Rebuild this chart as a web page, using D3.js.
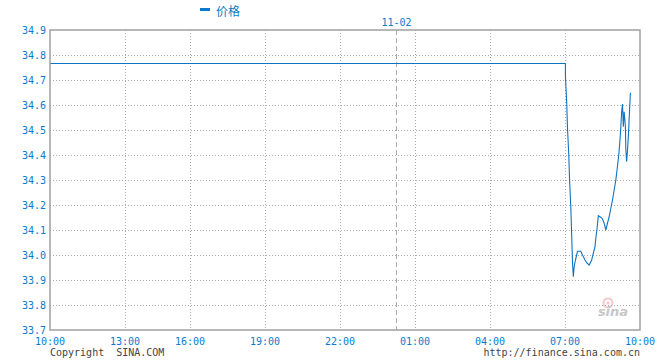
<!DOCTYPE html>
<html>
<head>
  <meta charset="utf-8">
  <script src="https://d3js.org/d3.v7.min.js"></script>
  <style>
    body { margin: 0; background: #fff; }
    svg text { font-family: "DejaVu Sans Mono", "Liberation Mono", monospace; font-size: 10px; }
  </style>
</head>
<body>
<script>
  // x values are minutes along the trading axis, starting at 10:00
  // (the 13:00-16:00 block is shorter, there is a break in it)
  var tickLabels = ["10:00", "13:00", "16:00", "19:00", "22:00", "01:00", "04:00", "07:00", "10:00"];
  var tickMins   = [0, 180, 336, 516, 696, 876, 1056, 1236, 1416];
  var dayBreak = { label: "11-02", min: 830 };
  var yTicks = [33.7, 33.8, 33.9, 34.0, 34.1, 34.2, 34.3, 34.4, 34.5, 34.6, 34.7, 34.8, 34.9];

  var priceMins = [0, 1237, 1237, 1240, 1242, 1245, 1247, 1250, 1252, 1254, 1256,
    1258, 1261, 1264, 1266, 1274, 1278, 1284, 1288, 1294, 1300, 1304, 1308, 1310,
    1313, 1316, 1320, 1325, 1330, 1334, 1338, 1342, 1346, 1350, 1354, 1358, 1362,
    1365, 1368, 1370, 1372, 1374, 1376, 1378, 1381, 1382, 1384, 1386, 1388, 1390, 1393];
  var prices = [34.766, 34.766, 34.716, 34.613, 34.507, 34.403, 34.30, 34.188, 34.08, 33.969, 33.913,
    33.953, 33.98, 34.0, 34.015, 34.015, 34.0, 33.98, 33.969, 33.96, 33.98, 34.007, 34.033, 34.067,
    34.107, 34.157, 34.153, 34.147, 34.127, 34.10, 34.127, 34.153, 34.187, 34.22, 34.26, 34.30, 34.356,
    34.40, 34.46, 34.513, 34.573, 34.604, 34.513, 34.573, 34.513, 34.42, 34.373, 34.42, 34.473, 34.547, 34.649];

  (function() {
  var W = 660, H = 360;
  var pL = 50, pR = 640, pT = 30, pB = 330;
  var blue = "#0a7bcc";

  var svg = d3.select("body").append("svg").attr("width", W).attr("height", H);

  var x = d3.scaleLinear().domain([0, 1416]).range([pL, pR]);
  var y = d3.scaleLinear().domain([33.7, 34.9]).range([pB, pT]);

  // grid
  svg.append("g").selectAll("line")
    .data(yTicks.slice(1, -1))
    .enter().append("line")
    .attr("x1", pL).attr("x2", pR)
    .attr("y1", function(d) { return Math.round(y(d)) + 0.5; })
    .attr("y2", function(d) { return Math.round(y(d)) + 0.5; })
    .attr("stroke", "#aaa").attr("stroke-dasharray", "1,2");

  svg.append("g").selectAll("line")
    .data(tickMins.slice(1, -1))
    .enter().append("line")
    .attr("x1", function(d) { return Math.round(x(d)) + 0.5; })
    .attr("x2", function(d) { return Math.round(x(d)) + 0.5; })
    .attr("y1", pT).attr("y2", pB)
    .attr("stroke", "#aaa").attr("stroke-dasharray", "1,2");

  // day separator
  var bx = Math.round(x(dayBreak.min)) + 0.5;
  svg.append("line")
    .attr("x1", bx).attr("x2", bx).attr("y1", pT).attr("y2", pB)
    .attr("stroke", "#aaa").attr("stroke-dasharray", "5,3");
  svg.append("text")
    .attr("x", bx).attr("y", 26)
    .attr("text-anchor", "middle").attr("fill", blue)
    .text(dayBreak.label);

  // watermark
  var wm = svg.append("g").attr("opacity", 0.55);
  wm.append("circle").attr("cx", 608).attr("cy", 303).attr("r", 4.5)
    .attr("fill", "none").attr("stroke", "#f29aa6").attr("stroke-width", 2);
  wm.append("circle").attr("cx", 608).attr("cy", 303).attr("r", 1.5).attr("fill", "#f29aa6");
  wm.append("text").attr("x", 613).attr("y", 316).attr("text-anchor", "middle")
    .style("font-family", "DejaVu Sans").style("font-size", "13px")
    .style("font-weight", "bold").style("font-style", "italic")
    .attr("fill", "#999").text("sina");

  // price line
  var pts = d3.zip(priceMins, prices);
  svg.append("path")
    .datum(pts)
    .attr("fill", "none").attr("stroke", "#0f74c0").attr("stroke-width", 1.1)
    .attr("d", d3.line().x(function(d) { return x(d[0]); }).y(function(d) { return y(d[1]); }));

  // frame
  svg.append("rect")
    .attr("x", pL).attr("y", pT).attr("width", pR - pL).attr("height", pB - pT)
    .attr("fill", "none").attr("stroke", "#a0a0a0").attr("stroke-width", 1.5);

  // y labels
  svg.append("g").selectAll("text")
    .data(yTicks)
    .enter().append("text")
    .attr("x", 46).attr("y", function(d) { return y(d) + 4; })
    .attr("text-anchor", "end").attr("fill", blue)
    .text(function(d) { return d.toFixed(1); });

  // x labels
  svg.append("g").selectAll("text")
    .data(tickMins)
    .enter().append("text")
    .attr("x", function(d) { return x(d); }).attr("y", 345)
    .attr("text-anchor", "middle").attr("fill", blue)
    .text(function(d, i) { return tickLabels[i]; });

  // legend
  svg.append("rect").attr("x", 200).attr("y", 8).attr("width", 10).attr("height", 3).attr("fill", blue);
  svg.append("text").attr("x", 216).attr("y", 16)
    .style("font-family", "'Noto Sans CJK SC'").style("font-size", "12px")
    .attr("fill", blue).text("价格");

  // footer
  svg.append("text").attr("x", 50).attr("y", 356).attr("fill", "#444")
    .attr("xml:space", "preserve").style("white-space", "pre")
    .text("Copyright  SINA.COM");
  svg.append("text").attr("x", 640).attr("y", 356).attr("text-anchor", "end").attr("fill", "#444")
    .text("http://finance.sina.com.cn");
  })();
</script>
</body>
</html>
